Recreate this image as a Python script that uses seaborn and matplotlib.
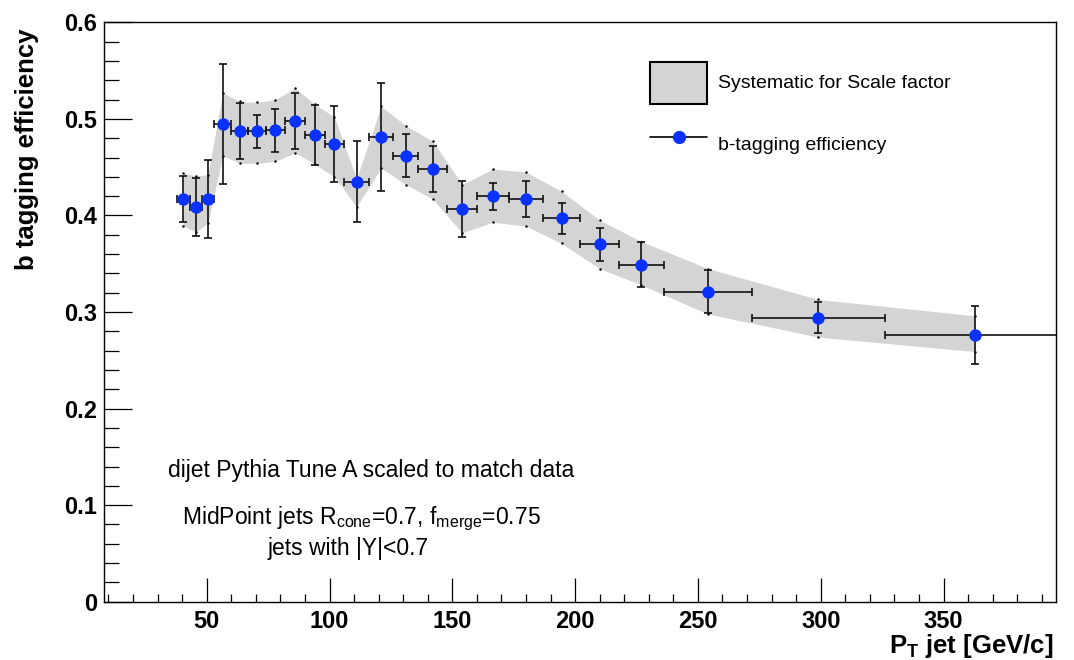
import numpy as np
import pandas as pd
import matplotlib
matplotlib.use("Agg")
import matplotlib.pyplot as plt
import seaborn as sns
from matplotlib.patches import Patch
from matplotlib.lines import Line2D
from matplotlib.ticker import MultipleLocator

# jet pT bin edges [GeV/c]
pt_edges = [38, 43, 48, 53, 60, 67, 74, 82, 90, 98, 106, 116, 126, 136,
            148, 160, 173, 187, 202, 218, 236, 272, 326, 400]

# b-tagging efficiency and statistical error
eff = [0.417, 0.409, 0.417, 0.495, 0.487, 0.487, 0.488, 0.498, 0.483, 0.474,
       0.435, 0.481, 0.462, 0.448, 0.407, 0.420, 0.417, 0.397, 0.370, 0.349,
       0.321, 0.294, 0.276]
eff_err = [0.024, 0.030, 0.040, 0.062, 0.029, 0.017, 0.022, 0.029, 0.031, 0.039,
           0.042, 0.056, 0.022, 0.024, 0.029, 0.014, 0.019, 0.016, 0.017, 0.023,
           0.022, 0.016, 0.030]

# systematic band (scale factor)
sys_up = [0.444, 0.441, 0.442, 0.527, 0.518, 0.517, 0.520, 0.532, 0.515, 0.502,
          0.438, 0.513, 0.493, 0.477, 0.432, 0.448, 0.445, 0.425, 0.395, 0.373,
          0.345, 0.313, 0.296]
sys_dn = [0.389, 0.383, 0.392, 0.462, 0.454, 0.454, 0.456, 0.465, 0.453, 0.440,
          0.409, 0.449, 0.432, 0.417, 0.382, 0.393, 0.389, 0.371, 0.345, 0.328,
          0.298, 0.274, 0.259]

edges = np.array(pt_edges, dtype=float)
df = pd.DataFrame({
    'pt': (edges[:-1] + edges[1:]) / 2,
    'pt_lo': edges[:-1],
    'pt_hi': edges[1:],
    'eff': eff,
    'err': eff_err,
    'up': sys_up,
    'dn': sys_dn,
})

sns.set_style("ticks")
plt.rcParams['font.family'] = ['Liberation Sans', 'DejaVu Sans']
plt.rcParams['mathtext.default'] = 'regular'
plt.rcParams['text.color'] = 'black'
plt.rcParams['axes.labelcolor'] = 'black'
plt.rcParams['xtick.color'] = 'black'
plt.rcParams['ytick.color'] = 'black'

fig = plt.figure(figsize=(10.74, 6.6), dpi=100)
ax = fig.add_axes([0.0971, 0.0883, 0.8859, 0.8779])

band_col = '#d4d4d4'
blue = '#0a32ff'

ax.fill_between(df['pt'], df['dn'], df['up'], color=band_col, lw=0, zorder=1)
ax.plot(df['pt'], df['up'], 'k.', ms=1.5, zorder=2)
ax.plot(df['pt'], df['dn'], 'k.', ms=1.5, zorder=2)

ax.errorbar(df['pt'], df['eff'],
            xerr=[df['pt'] - df['pt_lo'], df['pt_hi'] - df['pt']],
            yerr=df['err'], fmt='none', ecolor='#111111', elinewidth=1.2,
            capsize=3, capthick=1.2, zorder=3)
sns.scatterplot(data=df, x='pt', y='eff', color=blue, s=80, edgecolor=blue,
                linewidth=0, ax=ax, zorder=4)

ax.set_xlim(8.3, 395.7)
ax.set_ylim(0, 0.6)

ax.xaxis.set_minor_locator(MultipleLocator(10))
ax.yaxis.set_minor_locator(MultipleLocator(0.02))
ax.set_xticks([50, 100, 150, 200, 250, 300, 350])
ax.set_yticks([0, 0.1, 0.2, 0.3, 0.4, 0.5, 0.6])
ax.set_yticklabels(['0', '0.1', '0.2', '0.3', '0.4', '0.5', '0.6'])

ax.tick_params(axis='x', which='major', direction='in', length=17, width=0.9, pad=6)
ax.tick_params(axis='x', which='minor', direction='in', length=6, width=0.9)
ax.tick_params(axis='y', which='major', direction='in', length=20, width=0.9, pad=5)
ax.tick_params(axis='y', which='minor', direction='in', length=11, width=0.9)
for lab in ax.get_xticklabels() + ax.get_yticklabels():
    lab.set_fontsize(17)
    lab.set_fontweight('bold')

for s in ax.spines.values():
    s.set_linewidth(1.0)
    s.set_color('black')

ax.set_xlabel('P$_{T}$ jet [GeV/c]', fontsize=18.5, fontweight='bold', loc='right')
ax.xaxis.set_label_coords(0.997, -0.053)
ax.set_ylabel('b tagging efficiency', fontsize=18.5, fontweight='bold', loc='top')
ax.yaxis.set_label_coords(-0.0686, 0.99)

ax.text(0.2803, 0.2273, 'dijet Pythia Tune A scaled to match data',
        transform=ax.transAxes, ha='center', va='center', fontsize=16.5)
ax.text(0.2705, 0.1427, 'MidPoint jets R$_{cone}$=0.7, f$_{merge}$=0.75',
        transform=ax.transAxes, ha='center', va='center', fontsize=16.5)
ax.text(0.2561, 0.0927, 'jets with |Y|<0.7',
        transform=ax.transAxes, ha='center', va='center', fontsize=16.5)

handles = [
    Patch(facecolor=band_col, edgecolor='black', linewidth=1.5),
    Line2D([0], [0], color='black', lw=1.2, marker='o', ms=8.5,
           markerfacecolor=blue, markeredgecolor=blue),
]
ax.legend(handles, ['Systematic for Scale factor', 'b-tagging efficiency'],
          loc='upper left', bbox_to_anchor=(650 / 1074, 1 - 61.7 / 660),
          bbox_transform=fig.transFigure, frameon=False, fontsize=14,
          handlelength=2.95, handleheight=2.95, labelspacing=1.0,
          handletextpad=0.55, borderpad=0, borderaxespad=0)

fig.savefig('out.png', dpi=100)
